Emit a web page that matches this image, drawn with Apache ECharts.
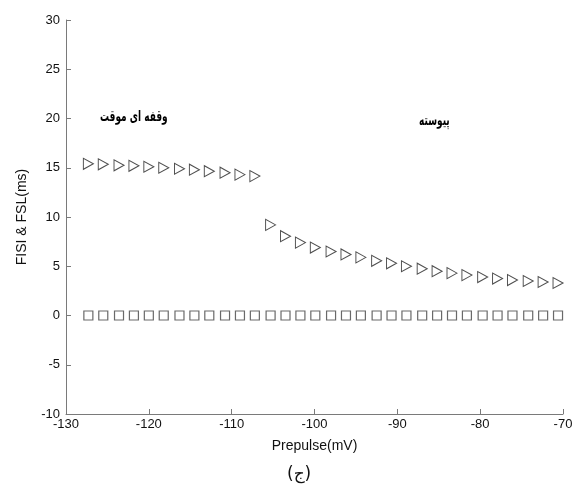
<!DOCTYPE html>
<html>
<head>
<meta charset="utf-8">
<script src="https://cdn.jsdelivr.net/npm/echarts@6/dist/echarts.min.js"></script>
<style>html,body{margin:0;padding:0;background:#fff;}#c{width:578px;height:495px;}</style>
</head>
<body>
<div id="c"></div>
<script>
var prepulse = [-127.3,-125.5,-123.6,-121.8,-120.0,-118.2,-116.3,-114.5,-112.7,-110.8,-109.0,-107.2,
  -105.3,-103.5,-101.7,-99.9,-98.0,-96.2,-94.4,-92.5,-90.7,-88.9,-87.0,-85.2,-83.4,-81.6,-79.7,-77.9,-76.1,-74.2,-72.4,-70.6];
var fisi = [15.4,15.35,15.25,15.2,15.1,15.0,14.9,14.8,14.65,14.5,14.3,14.15,
  9.2,8.05,7.4,6.9,6.5,6.2,5.9,5.55,5.3,5.0,4.75,4.5,4.3,4.1,3.9,3.75,3.6,3.5,3.4,3.3];
var fsl = [0,0,0,0,0,0,0,0,0,0,0,0,0,0,0,0,0,0,0,0,0,0,0,0,0,0,0,0,0,0,0,0];
var xTicks = [-130,-120,-110,-100,-90,-80,-70];
var yTicks = [-10,-5,0,5,10,15,20,25,30];
var labelTransient = 'وقفه ای موقت';
var labelContinuous = 'پیوسته';
var xName = 'Prepulse(mV)';
var yName = 'FISI & FSL(ms)';
var caption = '(ج)';

var chart = echarts.init(document.getElementById('c'), null, {renderer:'canvas'});
var font = 'Liberation Sans, Arial, sans-serif';
var axisColor = '#7a7a7a';
chart.setOption({
  animation: false,
  backgroundColor: '#fff',
  grid: {left: 66, right: 15, top: 20, bottom: 81, containLabel: false},
  xAxis: {
    type: 'value', min: xTicks[0], max: xTicks[xTicks.length-1], interval: 10,
    name: xName, nameLocation: 'middle', nameGap: 25,
    nameTextStyle: {fontFamily: font, fontSize: 14, color: '#111'},
    axisLine: {onZero: false, lineStyle: {color: axisColor, width: 1}},
    axisTick: {inside: true, length: 5, lineStyle: {color: axisColor}},
    axisLabel: {fontFamily: font, fontSize: 13, color: '#111', margin: 4},
    splitLine: {show: false}
  },
  yAxis: {
    type: 'value', min: yTicks[0], max: yTicks[yTicks.length-1], interval: 5,
    name: yName, nameLocation: 'middle', nameGap: 37, nameRotate: 90,
    nameTextStyle: {fontFamily: font, fontSize: 14, color: '#111'},
    axisLine: {show: true, onZero: false, lineStyle: {color: axisColor, width: 1}},
    axisTick: {show: true, inside: true, length: 5, lineStyle: {color: axisColor}},
    axisLabel: {fontFamily: font, fontSize: 13, color: '#111', margin: 6},
    splitLine: {show: false}
  },
  series: [
    {
      type: 'scatter', name: 'FISI',
      data: prepulse.map(function(x,i){return [x, fisi[i]];}),
      symbol: 'triangle', symbolRotate: -90, symbolSize: [11, 10],
      itemStyle: {color: '#fff', borderColor: '#222', borderWidth: 1}
    },
    {
      type: 'scatter', name: 'FSL',
      data: prepulse.map(function(x,i){return [x, fsl[i]];}),
      symbol: 'rect', symbolSize: 9,
      itemStyle: {color: '#fff', borderColor: '#444', borderWidth: 1.2}
    }
  ],
  graphic: [
    {type: 'text', x: 100, y: 110, scaleX: 0.6, style: {text: labelTransient, font: 'bold 15px "DejaVu Sans", sans-serif', fill: '#000'}},
    {type: 'text', x: 419, y: 114, scaleX: 0.6, style: {text: labelContinuous, font: 'bold 15px "DejaVu Sans", sans-serif', fill: '#000'}},
    {type: 'text', x: 287, y: 466, style: {text: caption, font: '17px "DejaVu Sans", sans-serif', fill: '#111'}}
  ]
});
</script>
</body>
</html>
